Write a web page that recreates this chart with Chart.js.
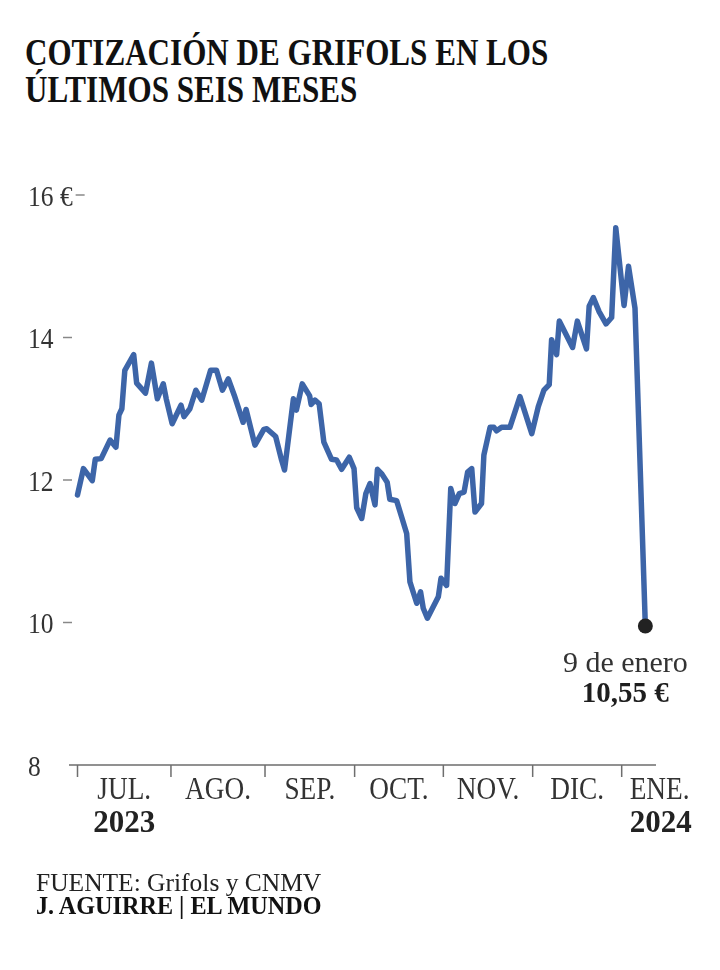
<!DOCTYPE html>
<html>
<head>
<meta charset="utf-8">
<script src="https://cdn.jsdelivr.net/npm/chart.js@4.4.1/dist/chart.umd.min.js"></script>
<style>
html,body{margin:0;padding:0;background:#fff;}
#wrap{position:relative;width:720px;height:970px;overflow:hidden;background:#fff;}
#c{position:absolute;left:0;top:0;}
.title{position:absolute;left:25px;top:34px;font-family:"Liberation Serif",serif;font-weight:700;font-size:37px;line-height:37px;color:#111;transform:scaleX(0.84);transform-origin:0 0;white-space:nowrap;}
.src{position:absolute;left:36px;top:870px;font-family:"Liberation Serif",serif;font-size:26px;line-height:26px;color:#222;white-space:nowrap;transform:scaleX(0.98);transform-origin:0 0;}
.auth{position:absolute;left:36px;top:893px;font-family:"Liberation Serif",serif;font-weight:700;font-size:26px;line-height:26px;color:#111;white-space:nowrap;transform:scaleX(0.93);transform-origin:0 0;}
</style>
</head>
<body>
<div id="wrap">
  <div class="title">COTIZACIÓN DE GRIFOLS EN LOS<br>ÚLTIMOS SEIS MESES</div>
  <canvas id="c" width="720" height="970"></canvas>
  <div class="src">FUENTE: Grifols y CNMV</div>
  <div class="auth">J. AGUIRRE | EL MUNDO</div>
</div>
<script>
// Day offset from 1 July 2023
const days = [0,2,5,6,8,11,13,14,15,16,19,20,23,25,27,29,30,32,35,36,38,40,42,45,47,49,51,53,56,57,60,63,64,67,69,70,73,74,76,78.5,79,80.3,81.7,83.3,85.9,87.6,89.3,91.9,93.5,94.4,96.1,97.5,98.9,100.6,101.4,102.8,104.7,105.6,107.9,109.6,111.3,112.4,114.7,116,116.9,118.3,122,122.9,124.8,126.2,127.6,129.1,130.7,131.9,133.3,134.4,136.6,137.4,139.5,140.8,141.7,143.4,146.2,149.6,153.6,155.8,157.7,159.5,160.3,162,162.9,167.4,169,172.1,173,174.4,176.4,178.7,180.6,182,184.8,186.3,188.5,192];
// Share price in euros
const prices = [11.79,12.16,11.99,12.29,12.30,12.56,12.46,12.91,13.00,13.54,13.76,13.36,13.22,13.64,13.14,13.35,13.14,12.79,13.05,12.89,13.00,13.26,13.12,13.54,13.54,13.26,13.42,13.19,12.81,12.99,12.49,12.71,12.72,12.61,12.28,12.14,13.14,12.98,13.35,13.18,13.06,13.12,13.07,12.53,12.29,12.28,12.15,12.32,12.16,11.61,11.46,11.81,11.95,11.65,12.15,12.09,11.97,11.73,11.71,11.48,11.25,10.57,10.27,10.43,10.20,10.06,10.36,10.62,10.52,11.88,11.67,11.81,11.83,12.11,12.16,11.55,11.67,12.35,12.74,12.74,12.69,12.74,12.74,13.17,12.65,13.03,13.26,13.34,13.97,13.76,14.23,13.86,14.23,13.84,14.44,14.56,14.36,14.19,14.28,15.54,14.45,15.00,14.41,9.95];

const monthTicks = [0,31.6,63.4,93.7,123.7,153.9,184];
const monthLabels = ['JUL.','AGO.','SEP.','OCT.','NOV.','DIC.','ENE.'];
const yearLabels  = ['2023','','','','','','2024'];
const yTicks = [16,14,12,10,8];
const yTickLabels = ['16 €','14','12','10','8'];
const lastDateLabel = '9 de enero';
const lastValueLabel = '10,55 €';

const X_MIN = -2.874, X_MAX = 195.6, Y_MIN = 8, Y_MAX = 16;

function cText(ctx, str, x, y, font, color, align, sx){
  ctx.save();
  ctx.font = font;
  ctx.fillStyle = color;
  ctx.textBaseline = 'alphabetic';
  const w = ctx.measureText(str).width * sx;
  let left = x;
  if (align === 'center') left = x - w/2;
  else if (align === 'right') left = x - w;
  ctx.translate(left, y);
  ctx.scale(sx, 1);
  ctx.textAlign = 'left';
  ctx.fillText(str, 0, 0);
  ctx.restore();
  return left + w;
}

const decor = {
  id: 'decor',
  beforeDatasetsDraw(chart){
    const {ctx, scales:{x, y}, chartArea: ca} = chart;
    ctx.save();
    const y0 = y.getPixelForValue(Y_MIN);
    ctx.strokeStyle = '#6e6e6e';
    ctx.lineWidth = 1.5;
    ctx.beginPath();
    ctx.moveTo(ca.left, y0); ctx.lineTo(ca.right, y0);
    monthTicks.forEach(d => {
      const px = x.getPixelForValue(d);
      ctx.moveTo(px, y0); ctx.lineTo(px, y0 + 12);
    });
    ctx.stroke();
    monthTicks.forEach((d, i) => {
      const px = x.getPixelForValue(d);
      let cx, align;
      if (i < monthTicks.length - 1) {
        cx = (px + x.getPixelForValue(monthTicks[i+1])) / 2; align = 'center';
      } else { cx = px + 8; align = 'left'; }
      cText(ctx, monthLabels[i], cx, y0 + 34, '31px "Liberation Serif"', '#333', align, 0.88);
      if (yearLabels[i]) cText(ctx, yearLabels[i], cx, y0 + 67, 'bold 31px "Liberation Serif"', '#222', align, 1.0);
    });
    yTicks.forEach((v, i) => {
      const py = y.getPixelForValue(v);
      const right = cText(ctx, yTickLabels[i], 28, py + 10.5, '30px "Liberation Serif"', '#333', 'left', 0.85);
      if (v !== Y_MIN) {
        const s = yTickLabels[i].indexOf('€') >= 0 ? right + 3 : 63;
        ctx.strokeStyle = '#888';
        ctx.lineWidth = 1.5;
        ctx.beginPath(); ctx.moveTo(s, py); ctx.lineTo(s + 9, py); ctx.stroke();
      }
    });
    ctx.restore();
  },
  afterDatasetsDraw(chart){
    const {ctx} = chart;
    const meta = chart.getDatasetMeta(0);
    const pt = meta.data[meta.data.length - 1];
    const cx = pt.x - 20;
    cText(ctx, lastDateLabel, cx, pt.y + 46, '30px "Liberation Serif"', '#333', 'center', 1.0);
    cText(ctx, lastValueLabel, cx, pt.y + 76, 'bold 29px "Liberation Serif"', '#1e1e1e', 'center', 1.0);
  }
};

const points = days.map((d, i) => ({x: d, y: prices[i]}));
const radii = prices.map((_, i) => i === prices.length - 1 ? 7.5 : 0);

new Chart(document.getElementById('c'), {
  type: 'line',
  data: {
    datasets: [{
      data: points,
      borderColor: '#3d65a8',
      borderWidth: 5.5,
      borderJoinStyle: 'round',
      borderCapStyle: 'round',
      tension: 0,
      fill: false,
      pointRadius: radii,
      pointHoverRadius: radii,
      pointBackgroundColor: '#222',
      pointBorderColor: '#222',
      pointBorderWidth: 0,
      clip: false
    }]
  },
  options: {
    responsive: false,
    animation: false,
    devicePixelRatio: 1,
    layout: { padding: { left: 69, right: 64, top: 195, bottom: 205 } },
    plugins: { legend: { display: false }, tooltip: { enabled: false } },
    events: [],
    scales: {
      x: { type: 'linear', min: X_MIN, max: X_MAX, display: false },
      y: { type: 'linear', min: Y_MIN, max: Y_MAX, display: false }
    }
  },
  plugins: [decor]
});
</script>
</body>
</html>
